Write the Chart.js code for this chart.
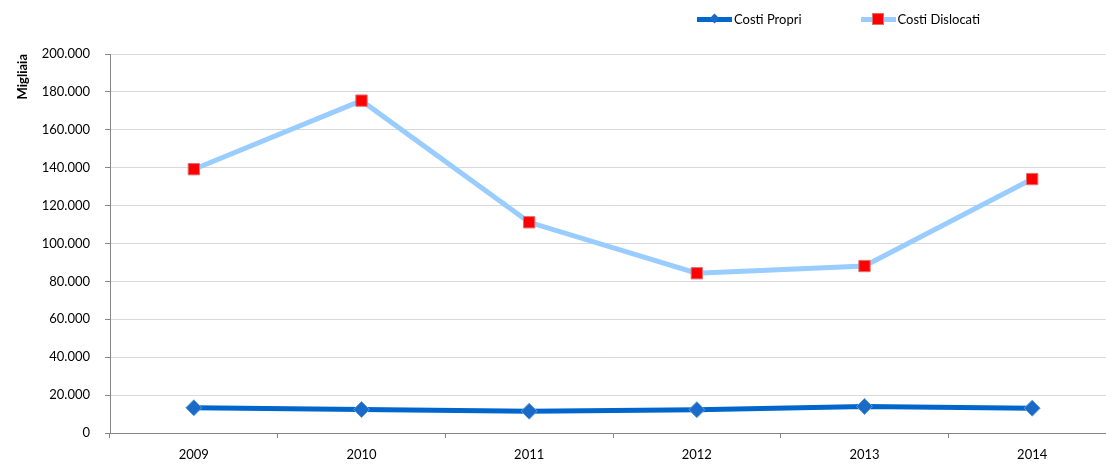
<!DOCTYPE html>
<html>
<head>
<meta charset="utf-8">
<script src="https://cdn.jsdelivr.net/npm/chart.js@4/dist/chart.umd.min.js"></script>
<style>
  html, body { margin:0; padding:0; background:#fff; overflow:hidden; }
  #wrap { position:relative; width:1106px; height:464px; overflow:hidden; }
  #lineChart { display:block; }
  #legend { position:absolute; left:697px; top:11px; display:flex; font-family:Lato, sans-serif; font-size:13px; color:#000; }
  .item { display:flex; align-items:center; margin-right:59px; }
  .sample { position:relative; width:35px; height:5px; margin-right:2px; }
  .mark { position:absolute; left:50%; top:50%; }
</style>
</head>
<body>
<div id="wrap">
  <canvas id="lineChart" width="1125" height="464"></canvas>
  <div id="legend"></div>
</div>
<script>
const years = ["2009", "2010", "2011", "2012", "2013", "2014"];
const costiPropri = [13300, 12400, 11500, 12300, 14000, 13100];
const costiDislocati = [139200, 175400, 111200, 84300, 88100, 134000];
const seriesNames = ["Costi Propri", "Costi Dislocati"];
const yTicks = { min: 0, max: 200000, step: 20000 };

function fmt(v) {
  return String(v).replace(/\B(?=(\d{3})+(?!\d))/g, ".");
}

const font = { family: "Lato, sans-serif", size: 13 };

const datasets = [
  {
    label: seriesNames[0], data: costiPropri,
    borderColor: "#0066CC", borderWidth: 5,
    pointStyle: "rectRot", pointRadius: 8, pointHoverRadius: 8,
    pointBackgroundColor: "#1A6BC8", pointBorderColor: "#5B9BD5", pointBorderWidth: 1
  },
  {
    label: seriesNames[1], data: costiDislocati,
    borderColor: "#99CCFF", borderWidth: 5,
    pointStyle: "rect", pointRadius: 8, pointHoverRadius: 8,
    pointBackgroundColor: "#FF0000", pointBorderColor: "#E07070", pointBorderWidth: 1
  }
];

new Chart(document.getElementById("lineChart"), {
  type: "line",
  data: { labels: years, datasets: datasets },
  options: {
    responsive: false, animation: false, devicePixelRatio: 1,
    // il canvas è più largo della finestra: l'area del grafico finisce oltre il bordo destro
    layout: { padding: { left: 15, right: 0, top: 54, bottom: 0 } },
    plugins: { legend: { display: false }, tooltip: { enabled: false } },
    scales: {
      x: {
        offset: true,
        afterFit: s => { s.height = 31; },
        grid: { offset: true, drawOnChartArea: false, tickLength: 5, tickColor: "#868686" },
        border: { color: "#868686" },
        ticks: { font: font, color: "#000", padding: 9 }
      },
      y: {
        min: yTicks.min, max: yTicks.max,
        afterFit: s => { s.width = 95; },
        grid: { color: "#D9D9D9", tickLength: 5, tickColor: "#868686" },
        border: { color: "#868686" },
        ticks: { stepSize: yTicks.step, font: font, color: "#000", padding: 15, callback: v => fmt(v) },
        title: {
          display: true, text: "Migliaia", align: "end", color: "#000",
          font: { family: "Lato, sans-serif", size: 13, weight: "bold" },
          padding: { top: 0, bottom: 4 }
        }
      }
    }
  }
});

// legenda HTML
const legend = document.getElementById("legend");
datasets.forEach((d, i) => {
  const item = document.createElement("div");
  item.className = "item";
  const sample = document.createElement("div");
  sample.className = "sample";
  sample.style.background = d.borderColor;
  const mark = document.createElement("div");
  mark.className = "mark";
  if (i === 0) {
    mark.style.cssText += "width:7px;height:7px;margin:-4px 0 0 -4px;transform:rotate(45deg);background:" + d.pointBackgroundColor + ";";
  } else {
    mark.style.cssText += "width:10px;height:10px;margin:-6px 0 0 -6px;border:1px solid " + d.pointBorderColor + ";background:" + d.pointBackgroundColor + ";";
  }
  sample.appendChild(mark);
  const txt = document.createElement("span");
  txt.textContent = d.label;
  item.appendChild(sample);
  item.appendChild(txt);
  legend.appendChild(item);
});
</script>
</body>
</html>
